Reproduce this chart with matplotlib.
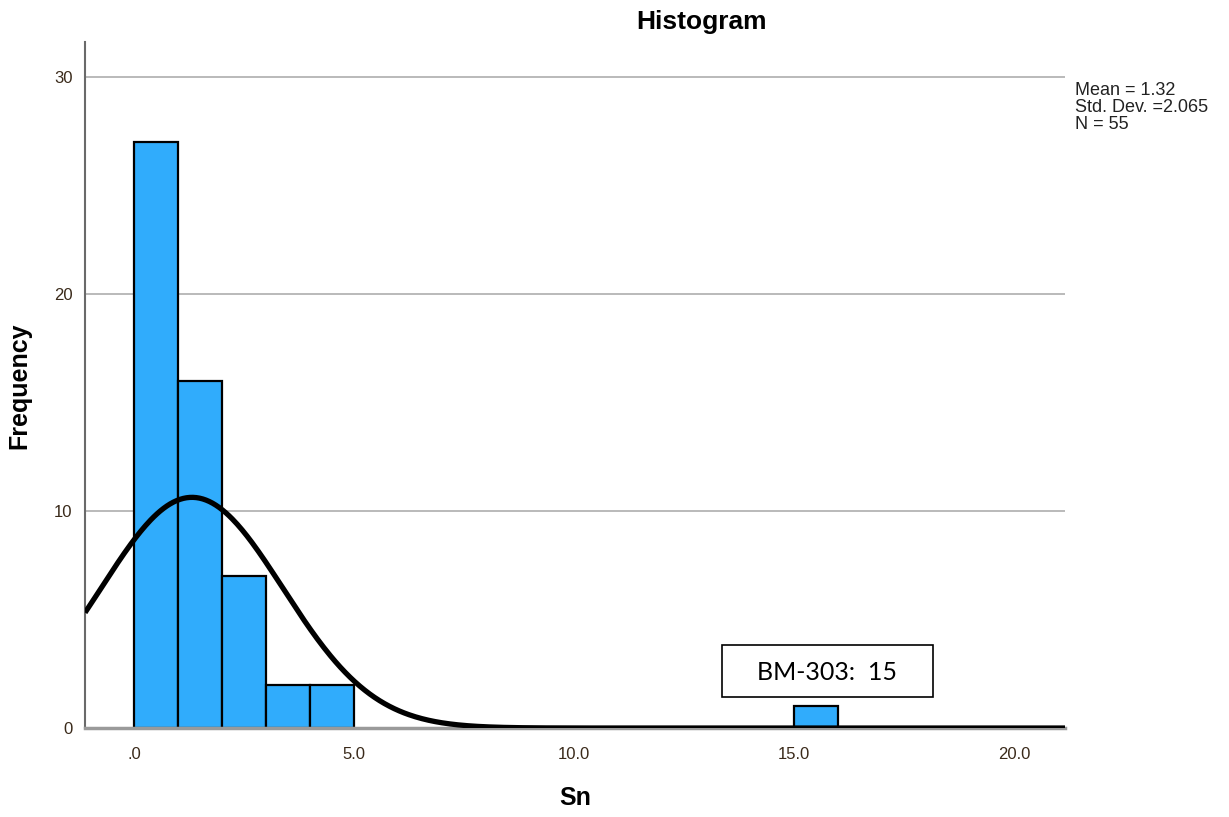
import numpy as np
import matplotlib
matplotlib.use("Agg")
import matplotlib.pyplot as plt
from matplotlib.patches import Rectangle

# histogram data (bin left edges, counts)
bin_left = [0, 1, 2, 3, 4, 15]
counts = [27, 16, 7, 2, 2, 1]
bin_width = 1.0

mean, sd, n = 1.32, 2.065, 55

xticks = [0, 5, 10, 15, 20]
xtick_labels = [".0", "5.0", "10.0", "15.0", "20.0"]
yticks = [0, 10, 20, 30]

plt.rcParams['font.family'] = ['Liberation Sans', 'DejaVu Sans']

fig = plt.figure(figsize=(12.29, 8.17), dpi=100)
ax = fig.add_axes([0.0692, 0.1089, 0.7974, 0.8397])

ax.set_xlim(-1.11, 21.16)
ax.set_ylim(0, 31.6)

for y in yticks[1:]:
    ax.axhline(y, color='#b4b4b4', lw=1.3, zorder=0)

ax.bar(bin_left, counts, width=bin_width, align='edge', color='#30acfc',
       edgecolor='black', linewidth=1.6, zorder=2)

# fitted normal curve
xs = np.linspace(-1.11, 21.16, 600)
ys = n * bin_width / (sd * np.sqrt(2 * np.pi)) * np.exp(-(xs - mean) ** 2 / (2 * sd ** 2))
ax.plot(xs, ys, color='black', lw=3.8, zorder=3, solid_capstyle='butt')

for s in ['top', 'right']:
    ax.spines[s].set_visible(False)
ax.spines['left'].set_color('#6a6a6a')
ax.spines['left'].set_linewidth(1.5)
ax.spines['bottom'].set_color('#9a9a9a')
ax.spines['bottom'].set_linewidth(2.5)

ax.set_xticks(xticks)
ax.set_xticklabels(xtick_labels)
ax.set_yticks(yticks)
ax.tick_params(length=0, labelsize=12, colors='#3a2a1a', pad=14)
ax.tick_params(axis='y', pad=9)

ax.set_xlabel("Sn", fontsize=18, fontweight='bold', labelpad=17)
fig.text(0.016, 0.528, "Frequency", fontsize=18, fontweight='bold',
         rotation=90, ha='center', va='center')

fig.text(0.571, 0.973, "Histogram", fontsize=19, fontweight='bold',
         ha='center', va='center')

fig.text(0.875, 0.90, "Mean = 1.32\nStd. Dev. =2.065\nN = 55", fontsize=13,
         ha='left', va='top', linespacing=1.02, color='#222222')

# outlier annotation box
ax.add_patch(Rectangle((13.36, 1.43), 4.8, 2.39, fc='white', ec='black',
                       lw=1.2, zorder=5))
ax.text(15.76, 2.55, "BM-303:  15", fontsize=18, ha='center', va='center',
        family=['Lato', 'DejaVu Sans'], zorder=6)

fig.savefig("out.png", dpi=100)
